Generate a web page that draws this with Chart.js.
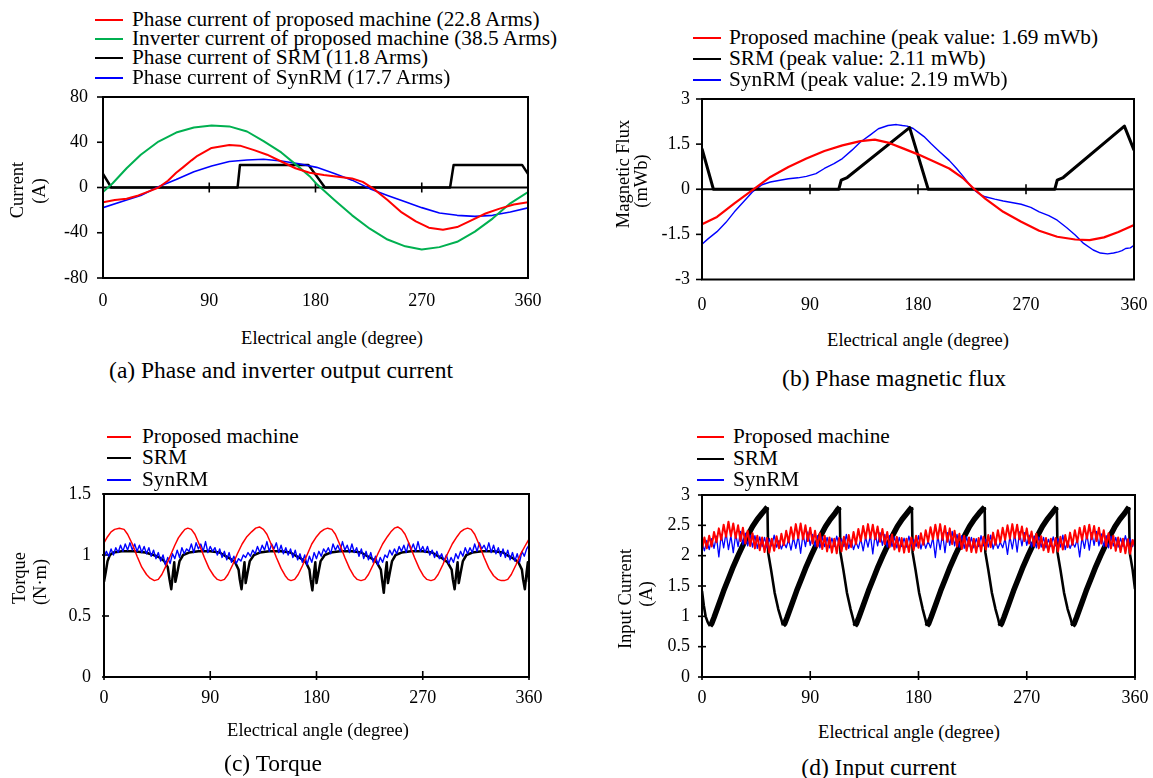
<!DOCTYPE html>
<html><head><meta charset="utf-8">
<script src="https://cdn.jsdelivr.net/npm/chart.js@4.4.1/dist/chart.umd.min.js"></script>
<style>
html,body{margin:0;padding:0;background:#fff;width:1153px;height:778px;overflow:hidden;position:relative;font-family:"Liberation Serif","Times New Roman",serif;color:#000}
canvas{position:absolute}
.t{position:absolute;white-space:nowrap;line-height:1}
.lg{position:absolute;height:0;border-top:2px solid #000}
</style></head><body>
<canvas id="ca" width="560" height="240" style="left:0;top:80px"></canvas>
<canvas id="cb" width="563" height="240" style="left:590px;top:80px"></canvas>
<canvas id="cc" width="560" height="240" style="left:0;top:480px"></canvas>
<canvas id="cd" width="563" height="240" style="left:590px;top:480px"></canvas>
<script>
// ---------- tick values ----------
const angleTicks = [0, 90, 180, 270, 360];
// ---------- (a) phase / inverter current [angle, A] ----------
const curProposed = [[0,-13],[10,-11],[20,-10],[30,-7],[40,-3],[47,0],[55,6],[62,13],[68,18],[75,24],[80,28],[92,35],[107,37.5],[116,37],[128,33],[139,29],[151,23],[163,17],[175,13],[187,11],[199,9.5],[211,8],[220,5],[229,-1],[241,-11],[253,-22],[265,-30],[276,-35.5],[288,-37.3],[300,-35],[312,-29],[324,-23],[336,-18.7],[348,-15],[360,-13]];
const curInverter = [[0,-4],[8,3.5],[20,17],[32,29],[47,40.6],[62,48.6],[77,53],[92,54.8],[107,54],[122,49.5],[136,41],[151,31],[166,18],[175,10],[181,3],[196,-11],[211,-24.6],[226,-36.4],[241,-46],[256,-52],[270,-54.8],[285,-52.7],[300,-48],[315,-39],[330,-27.5],[345,-14],[360,-4]];
const curSRM = [[0,12],[7,0],[114,0],[116,20],[174,20],[188,0],[294,0],[297,20],[355,20],[360,12]];
const curSynRM = [[0,-17.8],[20,-11],[32,-7],[47,0.6],[62,7],[77,14],[92,19],[107,23],[122,24.3],[136,25],[151,23.4],[166,21],[181,17.8],[196,12.4],[211,6.5],[226,-1],[241,-7],[256,-12.7],[270,-17.8],[285,-22.5],[300,-24.6],[315,-25.5],[330,-24.6],[345,-21.6],[360,-18]];
// ---------- (b) phase magnetic flux [angle, mWb] ----------
const fluxProposed = [[0,-1.16],[12.5,-0.92],[27,-0.47],[42,-0.03],[57,0.41],[72,0.74],[87,1.02],[102,1.27],[117,1.46],[132,1.6],[144,1.65],[156,1.54],[168,1.35],[180,1.16],[191,0.96],[206,0.69],[218,0.35],[227,0],[236,-0.31],[251,-0.75],[266,-1.08],[281,-1.38],[296,-1.58],[311,-1.67],[323,-1.69],[335,-1.6],[347,-1.42],[360,-1.19]];
const fluxSRM = [[0,1.35],[9.5,0],[114,0],[116,0.3],[121,0.39],[173,2.05],[188.5,0],[294,0],[296,0.3],[301,0.39],[352,2.1],[360,1.3]];
const fluxSynRM = [[0,-1.83],[5,-1.65],[12.5,-1.41],[20,-1.1],[27,-0.75],[35,-0.4],[42,-0.09],[50,0.15],[57,0.24],[65,0.3],[72,0.35],[80,0.38],[87,0.43],[95,0.52],[102,0.69],[110,0.85],[117,1.02],[125,1.3],[132,1.57],[140,1.8],[147,2.01],[155,2.12],[162,2.15],[167,2.12],[171,2.1],[176,2.02],[180,1.9],[185,1.75],[191,1.51],[198,1.25],[206,0.96],[212,0.7],[218,0.41],[223,0.15],[227,-0.03],[232,-0.18],[236,-0.25],[244,-0.33],[251,-0.39],[258,-0.44],[266,-0.5],[274,-0.6],[281,-0.75],[289,-0.88],[296,-1.03],[304,-1.28],[311,-1.52],[318,-1.8],[326,-2.02],[332,-2.12],[338,-2.15],[343,-2.12],[347,-2.08],[350,-2.04],[353,-1.97],[357,-1.95],[360,-1.86]];
// ---------- (c) torque [angle, N·m] ----------
const torqueProposed = [[0,1.1],[3,1.15],[6,1.19],[9,1.21],[13,1.22],[17,1.21],[20,1.17],[24,1.09],[28,0.99],[32,0.9],[36,0.84],[39,0.81],[42.7,0.79],[46,0.8],[49,0.84],[52,0.9],[56,0.99],[60,1.08],[63,1.14],[66,1.18],[68.5,1.21],[71,1.22],[74,1.21],[77,1.17],[81,1.08],[85,0.98],[89,0.89],[93,0.83],[96,0.8],[99,0.79],[102,0.8],[105,0.84],[109,0.92],[113,1.01],[117,1.09],[121,1.15],[125,1.19],[128.5,1.22],[131.7,1.23],[135,1.21],[138,1.17],[142,1.08],[146,0.98],[150,0.89],[153.5,0.83],[156,0.8],[158.4,0.79],[161.5,0.8],[164.5,0.84],[168,0.91],[172,1.0],[176,1.09],[180,1.15],[183.5,1.19],[186.5,1.21],[189.5,1.22],[193,1.21],[196,1.17],[200,1.08],[204,0.98],[208,0.89],[211.5,0.83],[214.5,0.8],[217.7,0.79],[221,0.8],[224,0.84],[228,0.92],[232,1.01],[236,1.09],[240,1.15],[243,1.19],[246,1.22],[248.8,1.23],[252,1.21],[255,1.17],[259,1.08],[263,0.98],[267,0.89],[270.5,0.83],[273.5,0.8],[277,0.79],[280,0.8],[283,0.84],[287,0.92],[291,1.01],[295,1.09],[299,1.15],[302,1.19],[305,1.21],[308,1.22],[311,1.21],[314,1.17],[318,1.08],[322,0.98],[326,0.89],[330,0.83],[333.5,0.8],[336.5,0.79],[339,0.79],[342,0.8],[345,0.84],[349,0.92],[353,1.01],[357,1.08],[360,1.13]];
const torqueSRM = [[0,0.78],[1.5,0.86],[3,0.95],[5,1.0],[8,1.02],[15,1.03],[25,1.03],[35,1.02],[42,1.0],[47,0.98],[51,0.95],[54,0.9],[55.5,0.8],[57,0.72],[58.5,0.86],[59.5,0.94],[60.5,0.78],[62,0.85],[64,0.95],[67,1.0],[72,1.02],[80,1.03],[90,1.03],[98,1.02],[103,0.99],[107,0.97],[111,0.94],[114,0.88],[115,0.8],[116.5,0.72],[118,0.86],[119,0.94],[120,0.77],[121.5,0.85],[123.5,0.95],[127,1.0],[132,1.02],[140,1.03],[150,1.03],[158,1.02],[163,0.99],[167,0.97],[171,0.94],[174,0.88],[175,0.8],[176.5,0.71],[178,0.86],[179,0.94],[180,0.77],[181.5,0.85],[183.5,0.95],[187,1.0],[192,1.02],[200,1.03],[210,1.03],[218,1.02],[223,0.99],[227,0.97],[231,0.94],[234.5,0.88],[235.5,0.8],[237,0.69],[238.5,0.86],[239.5,0.94],[240.5,0.77],[242,0.85],[244,0.95],[247,1.0],[252,1.02],[260,1.03],[270,1.03],[278,1.02],[283,0.99],[287,0.97],[291,0.94],[294.5,0.88],[295.5,0.8],[297,0.72],[298.5,0.86],[299.5,0.94],[300.5,0.77],[302,0.85],[304,0.95],[307,1.0],[312,1.02],[320,1.03],[330,1.03],[338,1.02],[343,0.99],[347,0.97],[351,0.94],[354,0.88],[355,0.8],[356.5,0.72],[358,0.86],[359,0.94],[360,0.78]];
// sampled every 2 degrees
const angleStep2 = [0,2,4,6,8,10,12,14,16,18,20,22,24,26,28,30,32,34,36,38,40,42,44,46,48,50,52,54,56,58,60,62,64,66,68,70,72,74,76,78,80,82,84,86,88,90,92,94,96,98,100,102,104,106,108,110,112,114,116,118,120,122,124,126,128,130,132,134,136,138,140,142,144,146,148,150,152,154,156,158,160,162,164,166,168,170,172,174,176,178,180,182,184,186,188,190,192,194,196,198,200,202,204,206,208,210,212,214,216,218,220,222,224,226,228,230,232,234,236,238,240,242,244,246,248,250,252,254,256,258,260,262,264,266,268,270,272,274,276,278,280,282,284,286,288,290,292,294,296,298,300,302,304,306,308,310,312,314,316,318,320,322,324,326,328,330,332,334,336,338,340,342,344,346,348,350,352,354,356,358,360];
const torqueSynRM = [
0.98,1.03,0.99,1.05,1.00,1.06,1.02,1.08,1.03,1.09,1.04,1.10,1.04,1.09,1.03,1.08,1.02,1.07,1.01,1.06,0.99,1.04,0.97,1.02,0.95,1.00,0.92,0.98,0.93,1.01,
0.97,1.04,0.98,1.06,1.01,1.05,1.03,1.09,1.02,1.10,1.05,1.09,1.03,1.11,1.02,1.07,1.03,1.06,1.00,1.05,0.98,1.03,0.96,1.02,0.94,0.99,0.93,0.97,0.95,1.00,
0.98,1.02,0.99,1.04,1.01,1.07,1.02,1.08,1.04,1.11,1.03,1.09,1.05,1.10,1.02,1.08,1.01,1.06,1.00,1.05,0.98,1.04,0.96,1.01,0.94,1.00,0.92,0.99,0.94,1.02,
0.97,1.03,0.99,1.05,1.02,1.06,1.01,1.09,1.04,1.08,1.03,1.11,1.04,1.08,1.02,1.09,1.02,1.06,0.99,1.05,0.97,1.03,0.96,1.02,0.94,0.99,0.92,0.98,0.94,1.00,
0.98,1.04,1.00,1.05,1.01,1.07,1.03,1.08,1.02,1.10,1.04,1.09,1.03,1.11,1.03,1.07,1.02,1.07,1.00,1.04,0.98,1.03,0.97,1.01,0.95,1.00,0.93,0.98,0.94,1.01,
0.97,1.03,0.99,1.06,1.01,1.06,1.02,1.09,1.03,1.10,1.05,1.08,1.03,1.10,1.02,1.08,1.01,1.06,0.99,1.05,0.98,1.04,0.96,1.02,0.95,1.01,0.94,1.03,0.99,1.05,
1.08];
// ---------- (d) input current [A] ----------
const inputProposed = [
2.10,2.30,2.12,2.33,2.15,2.39,2.22,2.45,2.26,2.51,
2.31,2.56,2.32,2.53,2.29,2.50,2.24,2.46,2.20,2.41,
2.16,2.37,2.12,2.33,2.09,2.30,2.06,2.29,2.05,2.28,
2.08,2.32,2.12,2.36,2.17,2.41,2.22,2.47,2.27,2.52,
2.29,2.53,2.27,2.50,2.24,2.46,2.20,2.41,2.15,2.37,
2.11,2.33,2.07,2.30,2.05,2.28,2.04,2.29,2.07,2.31,
2.10,2.34,2.14,2.39,2.19,2.44,2.24,2.49,2.28,2.52,
2.29,2.51,2.27,2.48,2.23,2.44,2.19,2.39,2.14,2.35,
2.10,2.31,2.07,2.29,2.05,2.28,2.06,2.30,2.09,2.33,
2.13,2.37,2.18,2.42,2.23,2.47,2.27,2.51,2.28,2.52,
2.26,2.49,2.23,2.45,2.19,2.41,2.15,2.36,2.11,2.33,
2.08,2.30,2.06,2.28,2.05,2.29,2.07,2.31,2.10,2.34,
2.14,2.38,2.18,2.42,2.22,2.46,2.26,2.50,2.28,2.52,
2.29,2.51,2.27,2.48,2.24,2.45,2.20,2.40,2.16,2.36,
2.12,2.32,2.09,2.29,2.06,2.28,2.05,2.29,2.07,2.31,
2.10,2.34,2.14,2.38,2.18,2.42,2.22,2.46,2.26,2.49,
2.28,2.51,2.27,2.49,2.24,2.46,2.20,2.42,2.16,2.37,
2.12,2.33,2.08,2.30,2.06,2.28,2.04,2.27,2.03,2.26,
2.15];
const inputSynRM = [
2.22,2.08,2.25,2.10,2.28,2.12,2.32,1.98,2.35,2.13,
2.38,2.10,2.33,2.05,2.36,2.15,2.40,2.18,2.37,2.16,
2.34,2.14,2.33,2.12,2.31,2.15,2.30,2.13,2.28,2.16,
2.34,2.14,2.25,2.11,2.22,2.13,2.27,2.09,2.30,2.12,
2.33,2.04,2.36,2.15,2.39,2.17,2.35,2.15,2.33,2.13,
2.31,2.15,2.30,2.13,2.29,2.15,2.32,2.17,2.28,2.15,
2.35,2.12,2.26,2.10,2.23,2.12,2.28,2.08,2.31,2.14,
2.34,2.03,2.37,2.16,2.38,2.17,2.35,2.14,2.33,2.15,
2.31,2.13,2.30,2.15,2.29,2.14,2.32,2.16,2.27,2.15,
2.33,2.11,2.26,2.12,2.24,2.13,2.30,1.97,2.33,2.10,
2.37,2.05,2.38,2.17,2.40,2.16,2.35,2.14,2.33,2.12,
2.31,2.15,2.30,2.13,2.28,2.15,2.33,2.16,2.27,2.14,
2.34,2.11,2.25,2.12,2.22,2.13,2.28,2.02,2.32,2.11,
2.36,2.06,2.39,2.16,2.38,2.17,2.34,2.14,2.32,2.13,
2.31,2.14,2.30,2.13,2.27,2.15,2.31,2.16,2.28,2.14,
2.34,2.10,2.24,2.12,2.22,2.14,2.27,1.98,2.31,2.12,
2.36,2.09,2.38,2.17,2.40,2.16,2.36,2.15,2.33,2.13,
2.32,2.16,2.30,2.14,2.29,2.15,2.33,2.16,2.28,2.15,
2.30];
const inputSRM = [[0,1.42],[1.5,1.18],[3,1.0],[4.8,0.9],[6.6,0.84],[8,0.88],[10,0.98],[14,1.2],[18,1.42],[22,1.62],[26,1.82],[30,2.0],[34,2.17],[38,2.33],[42,2.48],[46,2.6],[50,2.7],[53,2.77],[54.4,2.8],[55,2.05],[57.4,1.77],[60.4,1.39],[63.4,1.12],[65.8,0.96],[67.3,0.85],
[68.7,0.88],[70.7,0.98],[74.7,1.2],[78.7,1.42],[82.7,1.62],[86.7,1.82],[90.7,2.0],[94.7,2.17],[98.7,2.33],[102.7,2.48],[106.7,2.6],[110.7,2.7],[113.2,2.77],[114.5,2.8],[115.1,2.05],[117.5,1.77],[120.5,1.39],[123.5,1.12],[125.6,0.96],[127,0.84],
[128.4,0.88],[130.4,0.98],[134.4,1.2],[138.4,1.42],[142.4,1.62],[146.4,1.82],[150.4,2.0],[154.4,2.17],[158.4,2.33],[162.4,2.48],[166.4,2.6],[170.4,2.7],[173.2,2.77],[174.5,2.8],[175.1,2.05],[177.5,1.77],[180.5,1.39],[183.5,1.12],[185.6,0.96],[187,0.84],
[188.4,0.88],[190.4,0.98],[194.4,1.2],[198.4,1.42],[202.4,1.62],[206.4,1.82],[210.4,2.0],[214.4,2.17],[218.4,2.33],[222.4,2.48],[226.4,2.6],[230.4,2.7],[233.6,2.77],[235,2.8],[235.6,2.05],[238,1.77],[241,1.39],[244,1.12],[246.2,0.96],[247.6,0.84],
[249,0.88],[251,0.98],[255,1.2],[259,1.42],[263,1.62],[267,1.82],[271,2.0],[275,2.17],[279,2.33],[283,2.48],[287,2.6],[291,2.7],[293.7,2.77],[295,2.8],[295.6,2.05],[298,1.77],[301,1.39],[304,1.12],[306.5,0.96],[308,0.84],
[309.4,0.88],[311.4,0.98],[315.4,1.2],[319.4,1.42],[323.4,1.62],[327.4,1.82],[331.4,2.0],[335.4,2.17],[339.4,2.33],[343.4,2.48],[347.4,2.6],[351.4,2.7],[353.8,2.77],[355,2.8],[355.6,2.05],[358,1.77],[360,1.45]];
// ---------- labels ----------
const legendA = ["Phase current of proposed machine (22.8 Arms)","Inverter current of proposed machine (38.5 Arms)","Phase current of SRM (11.8 Arms)","Phase current of SynRM (17.7 Arms)"];
const legendB = ["Proposed machine (peak value: 1.69 mWb)","SRM (peak value: 2.11 mWb)","SynRM (peak value: 2.19 mWb)"];
const legendCD = ["Proposed machine","SRM","SynRM"];
const xTitle = "Electrical angle (degree)";

// ---------- styling ----------
const RED = '#FF0000', GREEN = '#00B050', BLACK = '#000000', BLUE = '#0000FF';
const FONT = '"Liberation Serif","Times New Roman",serif';

const pairs = arr => arr.map(p => ({x: p[0], y: p[1]}));
const zipped = (xs, ys) => ys.map((v, i) => ({x: xs[i], y: v}));

const axisDecor = {
  id: 'axisDecor',
  beforeDatasetsDraw(chart, args, o) {
    const {ctx, chartArea: a, scales: {x, y}} = chart;
    ctx.save();
    ctx.strokeStyle = '#000';
    const yb = o.zeroLine ? y.getPixelForValue(0) : a.bottom;
    if (o.zeroLine) {
      ctx.lineWidth = 2;
      ctx.beginPath(); ctx.moveTo(a.left, yb); ctx.lineTo(a.right, yb); ctx.stroke();
    }
    ctx.lineWidth = 1.6;
    x.ticks.forEach(t => {
      const px = x.getPixelForValue(t.value);
      ctx.beginPath(); ctx.moveTo(px, yb - o.xUp); ctx.lineTo(px, yb + o.xDown); ctx.stroke();
    });
    y.ticks.forEach(t => {
      const py = y.getPixelForValue(t.value);
      ctx.beginPath(); ctx.moveTo(a.left - o.yOut, py); ctx.lineTo(a.left + o.yIn, py); ctx.stroke();
    });
    ctx.restore();
  },
  afterDatasetsDraw(chart) {
    const {ctx, chartArea: a} = chart;
    ctx.save();
    ctx.strokeStyle = '#000'; ctx.lineWidth = 2;
    ctx.strokeRect(a.left, a.top, a.right - a.left, a.bottom - a.top);
    ctx.restore();
  }
};
Chart.register(axisDecor);

function ds(data, color, width, extra) {
  return Object.assign({data, borderColor: color, backgroundColor: color, borderWidth: width, pointRadius: 0, fill: false, tension: 0}, extra || {});
}
function noMargins(s) { s.paddingTop = 0; s.paddingBottom = 0; s.paddingLeft = 0; s.paddingRight = 0; }
function makeChart(id, datasets, yMin, yMax, yStep, yWidth, xHeight, pad, decor, xPad, yPad) {
  return new Chart(document.getElementById(id), {
    type: 'line',
    data: {datasets},
    options: {
      responsive: false, animation: false, devicePixelRatio: 1,
      layout: {autoPadding: false, padding: pad},
      plugins: {legend: {display: false}, tooltip: {enabled: false}, axisDecor: decor},
      elements: {point: {radius: 0}, line: {borderJoinStyle: 'round', borderCapStyle: 'butt'}},
      scales: {
        x: {type: 'linear', min: 0, max: 360,
            afterBuildTicks: s => { s.ticks = angleTicks.map(v => ({value: v})); },
            ticks: {color: '#000', font: {family: FONT, size: 18}, padding: xPad, maxRotation: 0, autoSkip: false, callback: v => String(v)},
            grid: {display: false, drawTicks: false}, border: {display: false},
            afterFit: s => { s.height = xHeight; noMargins(s); }},
        y: {type: 'linear', min: yMin, max: yMax,
            ticks: {stepSize: yStep, color: '#000', font: {family: FONT, size: 18}, padding: yPad, callback: v => String(v)},
            grid: {display: false, drawTicks: false}, border: {display: false},
            afterFit: s => { s.width = yWidth; noMargins(s); }}
      }
    }
  });
}

// (a)
makeChart('ca', [
  ds(pairs(curProposed), RED, 2),
  ds(pairs(curInverter), GREEN, 2),
  ds(pairs(curSynRM), BLUE, 1.6),
  ds(pairs(curSRM), BLACK, 2.5)
], -80, 80, 40, 103, 42, {left: 0, top: 17, right: 32, bottom: 0}, {zeroLine: true, xUp: 5, xDown: 5, yOut: 6, yIn: 0}, 12, 15);
// (b)
makeChart('cb', [
  ds(pairs(fluxProposed), RED, 2.2),
  ds(pairs(fluxSRM), BLACK, 3),
  ds(pairs(fluxSynRM), BLUE, 1.4)
], -3, 3, 1.5, 112, 40.5, {left: 0, top: 19, right: 19, bottom: 0}, {zeroLine: true, xUp: 5, xDown: 5, yOut: 6, yIn: 0}, 15, 12);
// (c)
makeChart('cc', [
  ds(pairs(torqueProposed), RED, 1.5),
  ds(zipped(angleStep2, torqueSynRM), BLUE, 1.4),
  ds(pairs(torqueSRM), BLACK, 2.5)
], 0, 1.5, 0.5, 104, 43, {left: 0, top: 14, right: 31, bottom: 0}, {zeroLine: false, xUp: 6, xDown: 3, yOut: 2, yIn: 5}, 10, 13);
// (d)
makeChart('cd', [
  ds(zipped(angleStep2, inputProposed), RED, 2),
  ds(zipped(angleStep2, inputSynRM), BLUE, 1.3),
  ds(pairs(inputSRM), BLACK, 5, {segment: {borderWidth: c => (c.p1.parsed.y >= c.p0.parsed.y ? 5.5 : 2.6)}})
], 0, 3, 0.5, 112, 43, {left: 0, top: 15, right: 18, bottom: 0}, {zeroLine: false, xUp: 6, xDown: 3, yOut: 4, yIn: 4}, 10, 12);

// ---------- HTML text ----------
function txt(s, x, y, size, align, rot) {
  const d = document.createElement('div');
  d.className = 't'; d.textContent = s;
  d.style.left = x + 'px'; d.style.top = y + 'px'; d.style.fontSize = size + 'px';
  d.style.transform = 'translate(' + (align === 'left' ? '0' : '-50%') + ',-50%)' + (rot ? ' rotate(-90deg)' : '');
  document.body.appendChild(d);
}
function legend(labels, colors, lx, lw, tx, ys) {
  labels.forEach((s, i) => {
    const l = document.createElement('div');
    l.className = 'lg';
    l.style.left = lx + 'px'; l.style.width = lw + 'px'; l.style.top = (ys[i] - 1) + 'px';
    l.style.borderTopColor = colors[i];
    document.body.appendChild(l);
    txt(s, tx, ys[i], 21.3, 'left');
  });
}
legend(legendA, [RED, GREEN, BLACK, BLUE], 95, 28, 132, [19.5, 39, 58, 77.5]);
legend(legendB, [RED, BLACK, BLUE], 693, 28, 729, [38, 59, 80]);
legend(legendCD, [RED, BLACK, BLUE], 107, 24, 142, [437, 458, 480]);
legend(legendCD, [RED, BLACK, BLUE], 697, 27, 733, [437, 459, 480]);

txt("Current", 17, 190, 18.5, 'c', true);
txt("(A)", 38.5, 190.5, 18.5, 'c', true);
txt("Magnetic Flux", 622.5, 174, 18.5, 'c', true);
txt("(mWb)", 641, 181, 18.5, 'c', true);
txt("Torque", 19, 578, 18.5, 'c', true);
txt("(N\u00B7m)", 40, 582, 18.5, 'c', true);
txt("Input Current", 624.5, 599, 18.5, 'c', true);
txt("(A)", 645.5, 594, 18.5, 'c', true);

txt(xTitle, 332, 338, 18.5, 'c');
txt(xTitle, 918, 340, 18.5, 'c');
txt(xTitle, 318, 730, 18.5, 'c');
txt(xTitle, 909, 732, 18.5, 'c');

txt("(a) Phase and inverter output current", 281, 371, 23.5, 'c');
txt("(b) Phase magnetic flux", 894, 379, 23.5, 'c');
txt("(c) Torque", 273, 764, 23.5, 'c');
txt("(d) Input current", 879, 768, 23.5, 'c');
</script>
</body></html>
